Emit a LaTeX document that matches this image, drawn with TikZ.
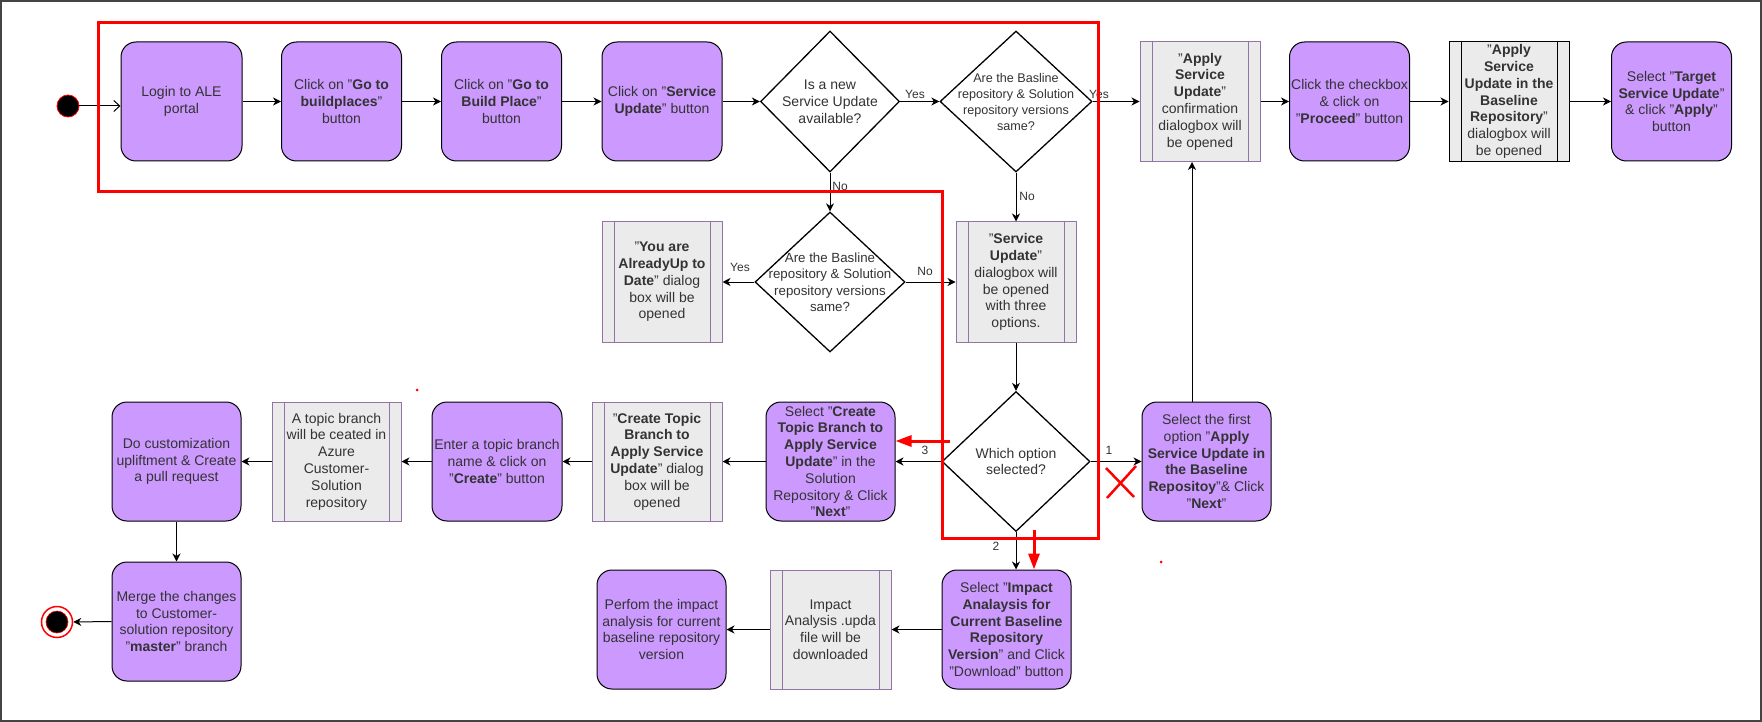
\documentclass[tikz,border=0pt]{standalone}
\usepackage{fontspec}
\setmainfont{Liberation Sans}
\usetikzlibrary{shapes.geometric,arrows.meta,calc}
\definecolor{pfill}{HTML}{CC99FF}
\definecolor{gfill}{HTML}{EBEBEB}
\definecolor{gbord}{HTML}{9673A6}
\definecolor{txt}{HTML}{333333}
\definecolor{framecol}{HTML}{444444}
\newcommand\fsbox{\fontsize{14}{16.8}\selectfont}
\newcommand\fsdia{\fontsize{13.3}{16.5}\selectfont}
\newcommand\fslab{\fontsize{12}{14}\selectfont}
\tikzset{
  pbox/.style={draw=black, line width=1pt, fill=pfill, rounded corners=15pt,
    minimum width=#1, minimum height=119, align=center, inner sep=0pt,
    font=\fsbox, text=txt},
  pbox/.default=120,
  gbox/.style={draw=gbord, line width=1pt, fill=gfill,
    minimum width=#1, minimum height=120, align=center, inner sep=0pt,
    font=\fsbox, text=txt,
    path picture={
      \draw[gbord, line width=1pt] ([xshift=12pt]path picture bounding box.north west) -- ([xshift=12pt]path picture bounding box.south west);
      \draw[gbord, line width=1pt] ([xshift=-12pt]path picture bounding box.north east) -- ([xshift=-12pt]path picture bounding box.south east);}},
  gbox/.default=120,
  gboxk/.style={draw=black, line width=1pt, fill=gfill,
    minimum width=#1, minimum height=120, align=center, inner sep=0pt,
    font=\fsbox, text=txt,
    path picture={
      \draw[black, line width=1pt] ([xshift=12pt]path picture bounding box.north west) -- ([xshift=12pt]path picture bounding box.south west);
      \draw[black, line width=1pt] ([xshift=-12pt]path picture bounding box.north east) -- ([xshift=-12pt]path picture bounding box.south east);}},
  gboxk/.default=120,
  dia/.style={draw=black, line width=1.3pt, diamond, fill=white, inner sep=0pt},
  diatext/.style={align=center, inner sep=0pt, text=txt},
  arr/.style={draw=black, line width=1pt, -{Stealth[length=8pt,width=8pt,inset=2.5pt]}},
  lab/.style={font=\fslab, text=txt, inner sep=0pt},
  redline/.style={draw=red, line width=3pt},
  redarr/.style={draw=red, line width=3pt, -{Triangle[length=16pt,width=11pt]}},
}
\begin{document}
\begin{tikzpicture}[x=1pt,y=-1pt]
\useasboundingbox (0,0) rectangle (1762,722);
\fill[white] (0,0) rectangle (1762,722);
\draw[line width=2pt, framecol] (1,1) rectangle (1761,721);

% start / end
\node[circle, fill=black, draw=red, line width=0.8pt, minimum size=22pt, inner sep=0pt] (start) at (68,106) {};
\node[circle, draw=red, line width=1.5pt, fill=white, minimum size=31pt, inner sep=0pt] (endc) at (57,622) {};
\node[circle, fill=black, draw=red, line width=0.6pt, minimum size=22pt, inner sep=0pt] (endi) at (57,622) {};

% top row
\node[pbox=121] (login) at (181.5,101.5) {Login to ALE\\portal};
\node[pbox] (gob) at (341.5,101.5) {Click on "\textbf{Go to}\\\textbf{buildplaces}"\\button};
\node[pbox] (gobp) at (501.5,101.5) {Click on "\textbf{Go to}\\\textbf{Build Place}"\\button};
\node[pbox] (su) at (662,101.5) {Click on "\textbf{Service}\\\textbf{Update}" button};

\node[dia, minimum width=139, minimum height=141] (d1) at (830,101.5) {};
\node[diatext, font=\fsbox] (d1t) at (d1.center) {Is a new\\Service Update\\available?};
\node[dia, minimum width=152, minimum height=141] (d2) at (1016,101.5) {};
\node[diatext, font=\fontsize{12.6}{16}\selectfont] (d2t) at (d2.center) {Are the Basline\\repository \& Solution\\repository versions\\same?};

\node[gbox] (g1) at (1200,101.5) {"\textbf{Apply}\\\textbf{Service}\\\textbf{Update}"\\confirmation\\dialogbox will\\be opened};
\node[pbox] (chk) at (1349.5,101.5) {Click the checkbox\\\& click on\\"\textbf{Proceed}" button};
\node[gboxk] (g2) at (1509,101.5) {"\textbf{Apply}\\\textbf{Service}\\\textbf{Update in the}\\\textbf{Baseline}\\\textbf{Repository}"\\dialogbox will\\be opened};
\node[pbox] (tgt) at (1671.5,101.5) {Select "\textbf{Target}\\\textbf{Service Update}"\\\& click "\textbf{Apply}"\\button};

% second row
\node[dia, minimum width=150, minimum height=140] (d3) at (830,282) {};
\node[diatext, font=\fsdia] (d3t) at (d3.center) {Are the Basline\\repository \& Solution\\repository versions\\same?};
\node[gbox] (ysame) at (662,282) {"\textbf{You are}\\\textbf{AlreadyUp to}\\\textbf{Date}" dialog\\box will be\\opened};
\node[gbox] (sud) at (1016,282) {"\textbf{Service}\\\textbf{Update}"\\dialogbox will\\be opened\\with three\\options.};

% third row
\node[dia, minimum width=148, minimum height=140] (d4) at (1016,461.5) {};
\node[diatext, font=\fsbox] (d4t) at (d4.center) {Which option\\selected?};
\node[pbox=129] (first) at (1206.5,461.5) {Select the first\\option "\textbf{Apply}\\\textbf{Service Update in}\\\textbf{the Baseline}\\\textbf{Repositoy}"\& Click\\"\textbf{Next}"};
\node[pbox=129] (ctb) at (830.5,461.5) {Select "\textbf{Create}\\\textbf{Topic Branch to}\\\textbf{Apply Service}\\\textbf{Update}" in the\\Solution\\Repository \& Click\\"\textbf{Next}"};
\node[gbox=130, minimum height=119] (gctb) at (657,461.5) {"\textbf{Create Topic}\\\textbf{Branch to}\\\textbf{Apply Service}\\\textbf{Update}" dialog\\box will be\\opened};
\node[pbox=130] (enter) at (497,461.5) {Enter a topic branch\\name \& click on\\"\textbf{Create}" button};
\node[gbox=129, minimum height=119] (gtopic) at (336.5,461.5) {A topic branch\\will be ceated in\\Azure\\Customer-\\Solution\\repository};
\node[pbox=129] (cust) at (176.5,461.5) {Do customization\\upliftment \& Create\\a pull request};
\node[pbox=129] (merge) at (176.5,621.5) {Merge the changes\\to Customer-\\solution repository\\"\textbf{master}" branch};

% fourth row
\node[pbox=129] (impact) at (1006.5,629.5) {Select "\textbf{Impact}\\\textbf{Analaysis for}\\\textbf{Current Baseline}\\\textbf{Repository}\\\textbf{Version}" and Click\\"Download" button};
\node[gbox=121, minimum height=119] (gimp) at (830.5,629.5) {Impact\\Analysis .upda\\file will be\\downloaded};
\node[pbox=129] (perf) at (661.5,629.5) {Perfom the impact\\analysis for current\\baseline repository\\version};

% connectors
\draw[line width=1pt, -{Straight Barb[length=6pt,width=11pt]}] (start) -- (start -| login.west);
\draw[arr] (login) -- (gob);
\draw[arr] (gob) -- (gobp);
\draw[arr] (gobp) -- (su);
\draw[arr] (su.east) -- (d1.west);
\draw[arr] (d1.east) -- (d2.west);
\draw[arr] (d2.east) -- (g1.west);
\draw[arr] (g1) -- (chk);
\draw[arr] (chk) -- (g2);
\draw[arr] (g2) -- (tgt);
\draw[arr] (d1.south) -- (d3.north);
\draw[arr] (d2.south) -- (sud.north);
\draw[arr] (d3.west) -- (ysame.east);
\draw[arr] (d3.east) -- (sud.west);
\draw[arr] (sud.south) -- (d4.north);
\draw[arr] (d4.west) -- (ctb.east);
\draw[arr] (d4.east) -- (first.west);
\draw[arr] (d4.south) -- (d4.south |- impact.north);
\coordinate (cx) at (1192,0);
\draw[arr] (first.north -| cx) -- (g1.south -| cx);
\draw[arr] (ctb) -- (gctb);
\draw[arr] (gctb) -- (enter);
\draw[arr] (enter) -- (gtopic);
\draw[arr] (gtopic) -- (cust);
\draw[arr] (cust) -- (merge);
\draw[arr] (merge.west) -- (endc.east);
\draw[arr] (impact) -- (gimp);
\draw[arr] (gimp) -- (perf);

% labels
\node[lab] (y1) at (915,94) {Yes};
\node[lab] (y2) at (1099,94) {Yes};
\node[lab] (n1) at (840,186) {No};
\node[lab] (n2) at (1027,196) {No};
\node[lab] (y3) at (740,267) {Yes};
\node[lab] (n3) at (925,271) {No};
\node[lab] (l3) at (925,450) {3};
\node[lab] (l1) at (1109,450) {1};
\node[lab] (l2) at (996,546) {2};

% red annotations
\draw[redline, line join=miter] (98,23) -- (1098,23) -- (1098,538) -- (942,538) -- (942,192) -- (98,192) -- cycle;
\coordinate (ra1) at (950,441);
\coordinate (ra2) at (1034,530);
\draw[redarr] (ra1) -- (ctb.east |- ra1);
\draw[redarr] (ra2) -- (ra2 |- impact.north);
\draw[draw=red, line width=2.5pt] (1107,498) -- (1136,466);
\draw[draw=red, line width=2.5pt] (1106,468) -- (1134,497);
\fill[red] (417,390) circle (1.5);
\fill[red] (1161,562) circle (1.5);
\end{tikzpicture}
\end{document}
